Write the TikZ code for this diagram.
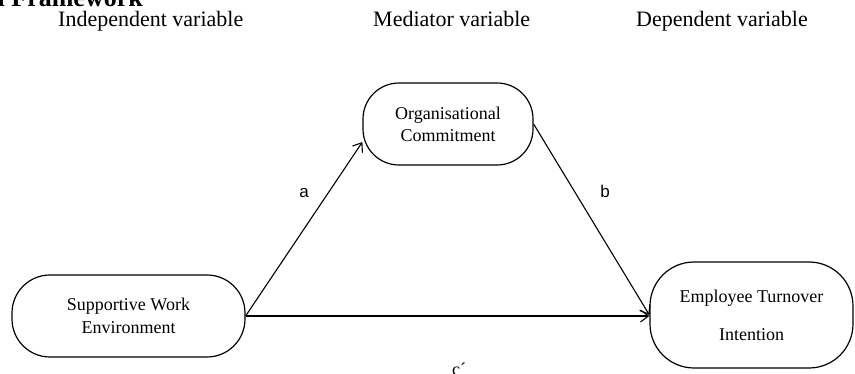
\documentclass[tikz,border=0pt]{standalone}
\usepackage{fontspec}
\setmainfont{Liberation Serif}
\newfontfamily\arialfont{Liberation Sans}
\usetikzlibrary{arrows.meta}
\begin{document}
\begin{tikzpicture}[x=1pt,y=-1pt,
  box/.style={draw, line width=1.2pt, rounded corners=36pt, align=center, font=\fontsize{18}{23}\selectfont, inner sep=0pt},
  head/.style={font=\fontsize{22}{26}\selectfont, anchor=base west, inner sep=0pt},
  conn/.style={line width=1.1pt, -{Straight Barb[length=8pt,width=12pt,line width=1.1pt]}},
  lab/.style={font=\arialfont\fontsize{17}{20}\selectfont, inner sep=0pt}]
\useasboundingbox (0,0) rectangle (855,374);
\clip (0,0) rectangle (855,374);
\node[anchor=base east, inner sep=0pt, font=\bfseries\fontsize{26}{30}\selectfont] (title) at (143,7) {Conceptual Framework};
\node[head] (h1) at (58,27) {Independent variable};
\node[head] (h2) at (373,27) {Mediator variable};
\node[head] (h3) at (636,27) {Dependent variable};
\node[box, minimum width=233pt, minimum height=82pt, rounded corners=38pt] (swe) at (128.5,316) {Supportive Work\\Environment};
\node[box, minimum width=170pt, minimum height=82pt, rounded corners=36pt, font=\fontsize{18}{22}\selectfont] (org) at (448,124) {Organisational\\Commitment};
\node[box, minimum width=203pt, minimum height=106pt, rounded corners=44pt] (emp) at (751.5,315) {Employee Turnover\\[15pt]Intention};
\draw[conn] (swe.east) -- ([yshift=-18pt]org.west);
\draw[conn] (org.east) -- (emp.west);
\draw[conn] (swe.east) -- (swe.east -| emp.west);
\node[lab] (la) at (304,193) {a};
\node[lab] (lb) at (605,191) {b};
\node[anchor=base west, inner sep=0pt, font=\fontsize{18}{22}\selectfont] (lc) at (452,376) {c´};
\end{tikzpicture}
\end{document}
